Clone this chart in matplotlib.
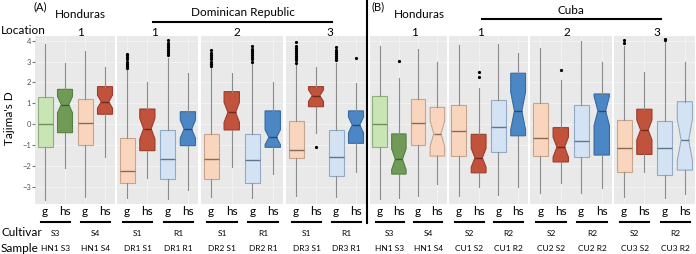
import matplotlib
matplotlib.use("Agg")
import matplotlib.pyplot as plt

plt.rcParams['font.family'] = ['Lato', 'DejaVu Sans']

# ---- data (Tajima's D box statistics) ----
# each panel: 4 facets (locations) x 4 boxes (g, hs, g, hs)
A_q3 = [[1.32, 1.67, 1.21, 1.80], [-0.67, 0.73, -0.27, 0.60], [-0.48, 1.56, -0.48, 0.64], [0.16, 1.80, -0.27, 0.64]]
A_med = [[0.01, 0.94, 0.05, 1.08], [-2.25, -0.21, -1.67, -0.23], [-1.65, 0.57, -1.71, -0.62], [-1.23, 1.37, -1.58, -0.03]]
A_q1 = [[-1.07, -0.40, -1.00, 0.48], [-2.79, -1.26, -2.60, -1.02], [-2.63, -0.27, -2.82, -1.10], [-1.63, 0.84, -2.46, -0.91]]
A_whi = [[3.84, 2.95, 3.52, 2.76], [2.60, 2.04, 3.16, 2.47], [2.68, 2.47, 2.92, 2.04], [2.84, 2.76, 2.95, 1.96]]
A_wlo = [[-3.62, -2.09, -3.46, -1.55], [-3.54, -2.58, -3.59, -3.14], [-3.46, -2.03, -3.54, -2.38], [-3.43, -0.43, -3.46, -2.27]]
A_notch = [[0, 0.39, 0, 0.31], [0, 0.50, 0, 0.43], [0, 0.48, 0, 0.36], [0, 0.28, 0, 0.38]]
A_out = [
    [[], [], [], []],
    [[2.7, 2.8, 2.9, 3.0, 3.1, 3.2, 3.3, 3.36], [], [3.3, 3.4, 3.5, 3.6, 3.7, 3.8, 3.9, 4.03], []],
    [[2.8, 2.9, 3.0, 3.1, 3.2, 3.3, 3.4, 3.55], [], [3.0, 3.1, 3.2, 3.3, 3.4, 3.5, 3.6, 3.76], []],
    [[2.95, 3.05, 3.15, 3.25, 3.35, 3.45, 3.55, 3.65, 3.75, 3.92], [-1.07], [3.05, 3.15, 3.25, 3.35, 3.45, 3.55, 3.71], [3.16]],
]

B_q3 = [[1.35, -0.46, 1.21, 0.81], [0.94, -0.48, 1.16, 2.44], [1.00, -0.16, 0.91, 1.45], [0.21, 0.72, 0.17, 1.08]]
B_med = [[0.03, -1.67, 0.05, -0.45], [-0.32, -1.60, -0.14, 0.64], [-0.66, -1.09, -0.80, 0.64], [-1.13, -0.27, -1.13, -0.75]]
B_q1 = [[-1.07, -2.38, -1.00, -1.52], [-1.52, -2.32, -1.31, -0.55], [-1.52, -1.80, -1.55, -1.47], [-2.27, -1.44, -2.43, -2.19]]
B_whi = [[3.75, 2.23, 3.60, 2.97], [3.79, 1.72, 3.84, 3.43], [3.64, 2.12, 4.00, 3.00], [3.75, 2.49, 3.95, 2.97]]
B_wlo = [[-3.59, -3.54, -3.42, -2.86], [-3.42, -3.01, -3.38, -2.99], [-3.27, -2.82, -3.30, -3.06], [-3.46, -2.27, -3.54, -3.33]]
B_notch = [[0, 0.50, 0, 0.60], [0, 0.45, 0, 0.90], [0, 0.48, 0, 0.70], [0, 0.48, 0, 1.00]]
B_out = [
    [[], [3.04], [], []],
    [[], [2.28, 2.52], [], []],
    [[], [2.6], [], []],
    [[3.9, 4.03], [], [4.03, 4.1], []],
]

A_colors = [["lgreen", "dgreen", "lpeach", "red"], ["lpeach", "red", "lblue", "blue"],
            ["lpeach", "red", "lblue", "blue"], ["lpeach", "red", "lblue", "blue"]]
B_colors = [["lgreen", "dgreen", "lpeach", "lpeach"], ["lpeach", "red", "lblue", "blue"],
            ["lpeach", "red", "lblue", "blue"], ["lpeach", "red", "lblue", "lblue"]]

A_location = ["1", "1", "2", "3"]
B_location = ["1", "1", "2", "3"]
A_cultivar = [["S3", "S4"], ["S1", "R1"], ["S1", "R1"], ["S1", "R1"]]
B_cultivar = [["S3", "S4"], ["S2", "R2"], ["S2", "R2"], ["S2", "R2"]]
A_sample = [["HN1 S3", "HN1 S4"], ["DR1 S1", "DR1 R1"], ["DR2 S1", "DR2 R1"], ["DR3 S1", "DR3 R1"]]
B_sample = [["HN1 S3", "HN1 S4"], ["CU1 S2", "CU1 R2"], ["CU2 S2", "CU2 R2"], ["CU3 S2", "CU3 R2"]]
tick_labels = ["g", "hs", "g", "hs"]

palette = {
    "lgreen": ("#c8e5b3", "#8fb07c", "#6f8f5c"),
    "dgreen": ("#6f9b57", "#55803f", "#3b5e2a"),
    "lpeach": ("#f9d5be", "#c9a48c", "#8a6a55"),
    "red":    ("#c1523c", "#9b3d2a", "#6e2a1c"),
    "lblue":  ("#d3e3f3", "#93aac4", "#5f7690"),
    "blue":   ("#4c87c5", "#376a9f", "#244a72"),
}

W, H = 696, 254
fig = plt.figure(figsize=(W / 100, H / 100), dpi=100)

def px_axes(x0, x1, y0=36, y1=204):
    return fig.add_axes([x0 / W, 1 - y1 / H, (x1 - x0) / W, (y1 - y0) / H])

def ftext(x, y, s, **kw):
    fig.text(x / W, 1 - y / H, s, **kw)

def fline(x0, x1, y0, y1, lw=1.5):
    fig.add_artist(plt.Line2D([x0 / W, x1 / W], [1 - y0 / H, 1 - y1 / H], color="black", lw=lw))

A_px = [(35, 115), (117, 198), (201, 283), (286, 366)]
B_px = [(370, 447), (449, 528), (530, 612), (614, 695)]

def draw_panel(px, q1, med, q3, wlo, whi, notch, outs, cols, cult, samp, show_y):
    for f in range(4):
        ax = px_axes(*px[f])
        ax.set_facecolor("#e9e9e9")
        for i in range(4):
            fill, edge, medc = palette[cols[f][i]]
            st = dict(med=med[f][i], q1=q1[f][i], q3=q3[f][i],
                      whislo=wlo[f][i], whishi=whi[f][i], fliers=outs[f][i],
                      cilo=med[f][i] - notch[f][i], cihi=med[f][i] + notch[f][i])
            ax.bxp([st], positions=[i + 1], widths=0.75, patch_artist=True,
                   shownotches=notch[f][i] > 0, showcaps=False,
                   boxprops=dict(facecolor=fill, edgecolor=edge, lw=0.8),
                   whiskerprops=dict(color="#8c8c8c", lw=0.8),
                   medianprops=dict(color=medc, lw=1.0),
                   flierprops=dict(marker="o", markersize=1.3, markerfacecolor="black",
                                   markeredgecolor="black"))
        ax.set_xlim(0.5, 4.5)
        ax.set_ylim(-3.81, 4.22)
        ax.set_yticks([-3, -2, -1, 0, 1, 2, 3, 4])
        ax.set_xticks([1, 2, 3, 4])
        ax.set_xticklabels(tick_labels, fontsize=8.5)
        ax.tick_params(axis="x", length=0, pad=1.5)
        ax.grid(True, color="#f4f4f4", lw=0.6)
        ax.set_axisbelow(True)
        for s in ax.spines.values():
            s.set_visible(False)
        if show_y and f == 0:
            ax.tick_params(axis="y", length=2, color="#777777", labelsize=5.5,
                           labelcolor="#555555", pad=1)
        else:
            ax.tick_params(axis="y", length=0, labelleft=False)
        tr = ax.get_xaxis_transform()
        for k, (a, b) in enumerate([(0.8, 2.25), (2.8, 4.25)]):
            ax.plot([a, b], [-0.107, -0.107], color="black", lw=1.5, transform=tr, clip_on=False)
            cx = (a + b) / 2
            ax.text(cx, -0.175, cult[f][k], transform=tr, ha="center", va="center", fontsize=6)
            ax.text(cx, -0.262, samp[f][k], transform=tr, ha="center", va="center", fontsize=6)

draw_panel(A_px, A_q1, A_med, A_q3, A_wlo, A_whi, A_notch, A_out, A_colors, A_cultivar, A_sample, True)
draw_panel(B_px, B_q1, B_med, B_q3, B_wlo, B_whi, B_notch, B_out, B_colors, B_cultivar, B_sample, False)

# header texts
ftext(33, 7, "(A)", fontsize=8, ha="left", va="center")
ftext(371, 7, "(B)", fontsize=8, ha="left", va="center")
ftext(80, 14, "Honduras", fontsize=8.5, ha="center", va="center")
ftext(243, 13, "Dominican Republic", fontsize=8.5, ha="center", va="center")
fline(153, 332, 22, 22)
ftext(419, 14, "Honduras", fontsize=8.5, ha="center", va="center")
ftext(571, 10, "Cuba", fontsize=8.5, ha="center", va="center")
fline(482, 661, 19, 19)
ftext(1, 30, "Location", fontsize=8.5, ha="left", va="center")
for x, s in zip([81, 155, 237, 330], A_location):
    ftext(x, 32, s, fontsize=8.5, ha="center", va="center")
for x, s in zip([414, 480, 567, 657], B_location):
    ftext(x, 32, s, fontsize=8.5, ha="center", va="center")
ftext(10, 118, "Tajima's D", fontsize=8.5, ha="center", va="center", rotation=90)
ftext(1, 233, "Cultivar", fontsize=8.5, ha="left", va="center")
ftext(1, 248, "Sample", fontsize=8.5, ha="left", va="center")
fline(367, 367, 0, 223, lw=1.5)

fig.savefig("out.png", dpi=100)
